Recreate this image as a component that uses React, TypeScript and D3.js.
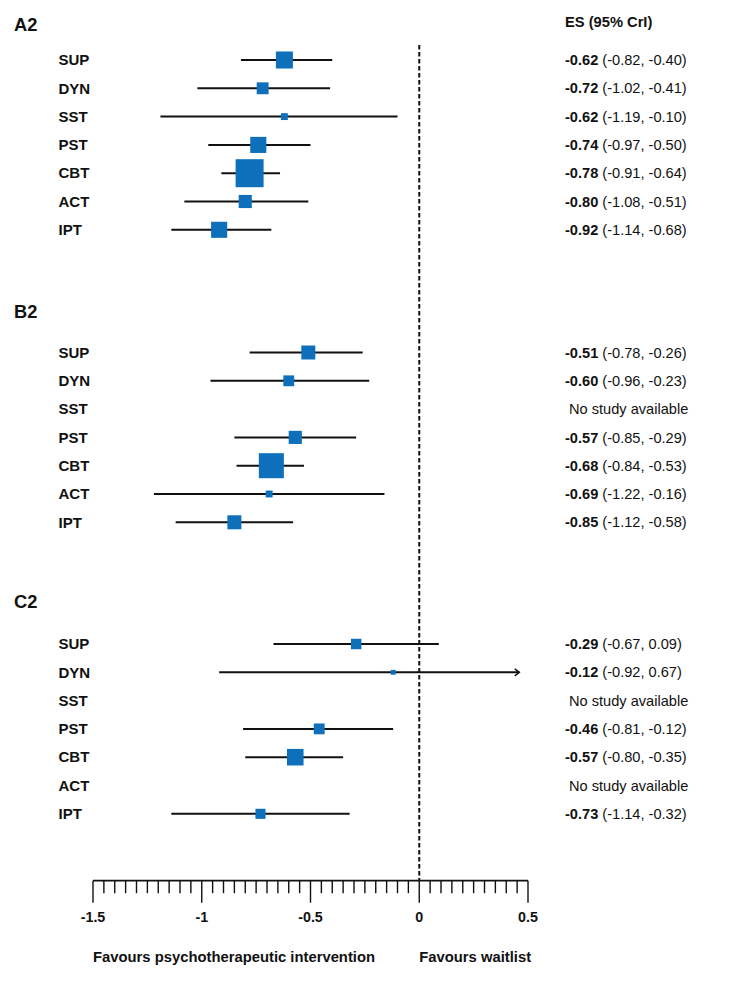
import React from "react";
import * as d3 from "d3";

// ---- Data ----
const interventions = ["SUP", "DYN", "SST", "PST", "CBT", "ACT", "IPT"];
const panelNames = ["A2", "B2", "C2"];

const estA2 = [-0.62, -0.72, -0.62, -0.74, -0.78, -0.8, -0.92];
const loA2 = [-0.82, -1.02, -1.19, -0.97, -0.91, -1.08, -1.14];
const hiA2 = [-0.4, -0.41, -0.1, -0.5, -0.64, -0.51, -0.68];
const wA2 = [37, 18, 6, 33, 100, 22, 33];

const estB2 = [-0.51, -0.6, null, -0.57, -0.68, -0.69, -0.85];
const loB2 = [-0.78, -0.96, null, -0.85, -0.84, -1.22, -1.12];
const hiB2 = [-0.26, -0.23, null, -0.29, -0.53, -0.16, -0.58];
const wB2 = [25, 15, null, 22, 80, 6, 25];

const estC2 = [-0.29, -0.12, null, -0.46, -0.57, null, -0.73];
const loC2 = [-0.67, -0.92, null, -0.81, -0.8, null, -1.14];
const hiC2 = [0.09, 0.67, null, -0.12, -0.35, null, -0.32];
const wC2 = [14, 3, null, 15, 35, null, 13];

const axisTicks = [-1.5, -1, -0.5, 0, 0.5];
const xDomain: [number, number] = [-1.5, 0.5];
const arrowClip = 0.46;

const panelEst = [estA2, estB2, estC2];
const panelLo = [loA2, loB2, loC2];
const panelHi = [hiA2, hiB2, hiC2];
const panelW = [wA2, wB2, wC2];

// ---- Layout ----
const W = 731;
const H = 984;
const FONT = "'Liberation Sans', Arial, Helvetica, sans-serif";
const BLUE = "#0E70BA";
const titleY = [25, 312, 602];
const firstRowY = [60, 352.5, 644];
const rowStep = 28.3;
const axisY = 880.7;
const textX = 565;

const fmt = (v: number) => v.toFixed(2);

export default function App() {
  const x = d3.scaleLinear().domain(xDomain).range([93, 528]);
  const size = d3.scaleSqrt().domain([0, 100]).range([0, 28]);
  const minorTicks = d3.range(-1.5, 0.5001, 0.05).map((v) => Math.round(v * 100) / 100);

  return (
    <svg
      width={W}
      height={H}
      style={{ position: "absolute", left: 0, top: 0, background: "#fff" }}
      fontFamily={FONT}
    >
      {/* zero reference line */}
      <line
        x1={x(0)}
        x2={x(0)}
        y1={45}
        y2={axisY}
        stroke="#111"
        strokeWidth={2}
        strokeDasharray="4.5,2.5"
      />

      <text x={textX} y={22} dy="0.35em" fontSize={14.7} fontWeight="bold" fill="#111">
        ES (95% CrI)
      </text>

      {panelNames.map((pn, pi) => {
        const y = d3
          .scalePoint<string>()
          .domain(interventions)
          .range([firstRowY[pi], firstRowY[pi] + rowStep * (interventions.length - 1)]);
        const est = panelEst[pi];
        const lo = panelLo[pi];
        const hi = panelHi[pi];
        const w = panelW[pi];
        return (
          <g key={pn}>
            <text x={14} y={titleY[pi]} dy="0.35em" fontSize={18.3} fontWeight="bold" fill="#111">
              {pn}
            </text>
            {interventions.map((name, i) => {
              const cy = y(name) as number;
              const e = est[i];
              const l = lo[i];
              const h = hi[i];
              const wt = w[i];
              const clipped = h !== null && h > xDomain[1];
              const hx = h === null ? 0 : x(clipped ? arrowClip : h);
              const s = wt === null ? 0 : size(wt);
              return (
                <g key={name}>
                  <text x={58.5} y={cy} dy="0.35em" fontSize={15} fontWeight="bold" fill="#111">
                    {name}
                  </text>
                  {e !== null && l !== null && h !== null ? (
                    <>
                      <line x1={x(l)} x2={hx} y1={cy} y2={cy} stroke="#111" strokeWidth={2} />
                      {clipped && (
                        <path
                          d={`M${hx - 4.5},${cy - 3.5}L${hx},${cy}L${hx - 4.5},${cy + 3.5}`}
                          fill="none"
                          stroke="#111"
                          strokeWidth={1.5}
                        />
                      )}
                      <rect x={x(e) - s / 2} y={cy - s / 2} width={s} height={s} fill={BLUE} />
                      <text x={textX} y={cy} dy="0.35em" fontSize={14.6} fill="#111">
                        <tspan fontWeight="bold">{fmt(e)}</tspan>
                        <tspan>{` (${fmt(l)}, ${fmt(h)})`}</tspan>
                      </text>
                    </>
                  ) : (
                    <text x={textX + 4} y={cy} dy="0.35em" fontSize={14.6} fill="#111">
                      No study available
                    </text>
                  )}
                </g>
              );
            })}
          </g>
        );
      })}

      {/* axis */}
      <line x1={x(xDomain[0])} x2={x(xDomain[1])} y1={axisY} y2={axisY} stroke="#111" strokeWidth={1.8} />
      {minorTicks.map((t) => {
        const major = axisTicks.some((m) => Math.abs(m - t) < 1e-6);
        return (
          <line
            key={t}
            x1={x(t)}
            x2={x(t)}
            y1={axisY}
            y2={axisY + (major ? 22 : 12.5)}
            stroke="#111"
            strokeWidth={1.4}
          />
        );
      })}
      {axisTicks.map((t) => (
        <text
          key={t}
          x={x(t)}
          y={916.7}
          dy="0.35em"
          textAnchor="middle"
          fontSize={14.3}
          fontWeight="bold"
          fill="#111"
        >
          {String(t)}
        </text>
      ))}
      <text x={x(-1.5)} y={956.7} dy="0.35em" fontSize={14.8} fontWeight="bold" fill="#111">
        Favours psychotherapeutic intervention
      </text>
      <text x={x(0)} y={956.7} dy="0.35em" fontSize={14.8} fontWeight="bold" fill="#111">
        Favours waitlist
      </text>
    </svg>
  );
}
